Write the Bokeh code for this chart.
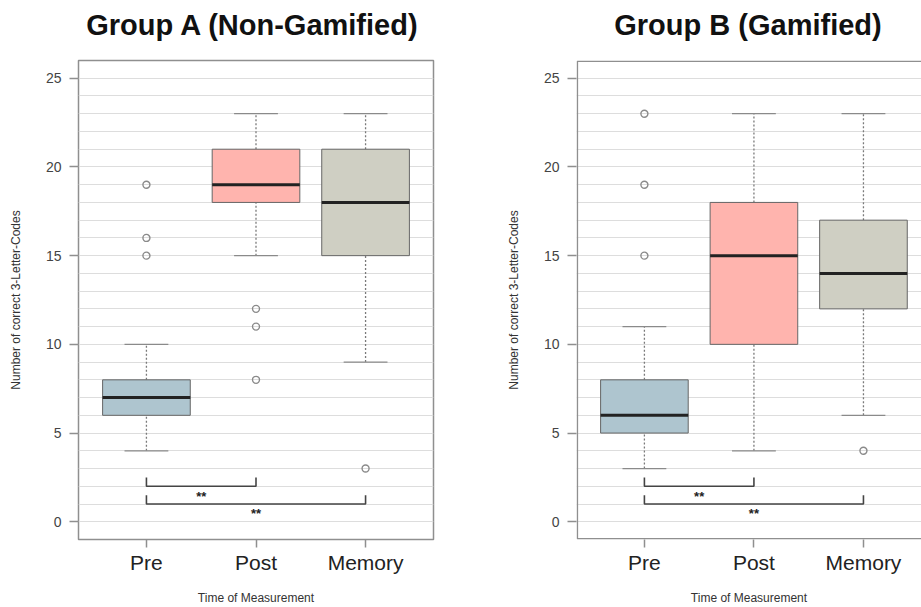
from bokeh.plotting import figure
from bokeh.layouts import row, column
from bokeh.models import FixedTicker, ColumnDataSource
from bokeh.core.properties import value
from bokeh.embed import file_html
from bokeh.resources import INLINE

# ---------------- data ----------------
categories = ["Pre", "Post", "Memory"]
positions = [1, 2, 3]

a_q1 = [6, 18, 15]
a_median = [7, 19, 18]
a_q3 = [8, 21, 21]
a_low = [4, 15, 9]
a_high = [10, 23, 23]
a_out_pos = [1, 1, 1, 2, 2, 2, 3]
a_out_val = [15, 16, 19, 12, 11, 8, 3]

b_q1 = [5, 10, 12]
b_median = [6, 15, 14]
b_q3 = [8, 18, 17]
b_low = [3, 4, 6]
b_high = [11, 23, 23]
b_out_pos = [1, 1, 1, 3]
b_out_val = [15, 19, 23, 4]

sig_from = [1, 1]
sig_to = [2, 3]
sig_level = [2, 1]
sig_label = ["**", "**"]

y_ticks = [0, 5, 10, 15, 20, 25]

titles = ["Group A (Non-Gamified)", "Group B  (Gamified)"]

colors = ["#aec5cf", "#ffb4ae", "#cfcfc3"]
FONT = "Liberation Sans"
BOX_W = 0.8
CAP_W = 0.4
Y0, Y1 = -1, 26
X0 = 0.38
TITLE_H = 58
MAIN_H = 607 - TITLE_H
TITLE_CY = 24


def make_title(text, width, border_left, border_right, shift_px):
    t = figure(width=width, height=TITLE_H, x_range=(0, width), y_range=(0, TITLE_H),
               output_backend="svg", toolbar_location=None, x_axis_type=None,
               y_axis_type=None, min_border=0, outline_line_color=None,
               background_fill_color="white", border_fill_color="white")
    t.grid.visible = False
    cx = border_left + (width - border_left - border_right) / 2 + shift_px
    t.text(x=[cx], y=[TITLE_H - TITLE_CY], text=[text], text_align="center",
           text_baseline="middle", text_font=value(FONT), text_font_size="29px",
           text_font_style="bold", text_color="#111111")
    return t


def make_panel(q1, med, q3, low, high, out_pos, out_val, x_end, width,
               border_left, border_right, full_outline):
    p = figure(width=width, height=MAIN_H, x_range=(X0, x_end), y_range=(Y0, Y1),
               output_backend="svg", toolbar_location=None,
               min_border_left=border_left, min_border_right=border_right,
               min_border_top=2, min_border_bottom=66, background_fill_color="white",
               border_fill_color="white")
    # grid
    p.xgrid.visible = False
    p.ygrid.ticker = FixedTicker(ticks=list(range(0, 26)))
    p.ygrid.grid_line_color = "#dddddd"
    p.ygrid.grid_line_width = 1
    # frame
    if full_outline:
        p.outline_line_color = "#8f8f8f"
        p.outline_line_width = 1.5
    else:
        p.outline_line_color = None
        dx = 0.008
        dy = 0.045
        p.line(x=[x_end + 1, X0 + dx, X0 + dx, x_end + 1],
               y=[Y1 - dy, Y1 - dy, Y0 + dy, Y0 + dy], line_color="#8f8f8f",
               line_width=1.5)
    # axes
    p.xaxis.ticker = FixedTicker(ticks=positions)
    p.xaxis.major_label_overrides = {pos: c for pos, c in zip(positions, categories)}
    p.xaxis.major_label_text_font = FONT
    p.xaxis.major_label_text_font_size = "21px"
    p.xaxis.major_label_text_color = "#222222"
    p.xaxis.major_label_standoff = 3
    p.xaxis.axis_label = "Time of Measurement"
    p.xaxis.axis_label_text_font = FONT
    p.xaxis.axis_label_text_font_size = "12px"
    p.xaxis.axis_label_text_font_style = "normal"
    p.xaxis.axis_label_text_color = "#333333"
    p.xaxis.axis_label_standoff = 14

    p.yaxis.ticker = FixedTicker(ticks=y_ticks)
    p.yaxis.major_label_text_font = FONT
    p.yaxis.major_label_text_font_size = "14px"
    p.yaxis.major_label_text_color = "#444444"
    p.yaxis.major_label_standoff = 8
    p.yaxis.axis_label = "Number of correct 3-Letter-Codes"
    p.yaxis.axis_label_text_font = FONT
    p.yaxis.axis_label_text_font_size = "12px"
    p.yaxis.axis_label_text_font_style = "normal"
    p.yaxis.axis_label_text_color = "#333333"
    p.yaxis.axis_label_standoff = 20
    for ax in (p.xaxis, p.yaxis):
        ax.axis_line_color = None
        ax.major_tick_in = 0
        ax.major_tick_out = 9
        ax.major_tick_line_color = "#8f8f8f"
        ax.major_tick_line_width = 1.5
        ax.minor_tick_line_color = None
    p.xaxis.major_tick_out = 8

    src = ColumnDataSource(dict(
        x=positions, q1=q1, med=med, q3=q3, low=low, high=high, color=colors,
        bl=[x - BOX_W / 2 for x in positions], br=[x + BOX_W / 2 for x in positions],
        cl=[x - CAP_W / 2 for x in positions], cr=[x + CAP_W / 2 for x in positions]))
    # whiskers (dashed)
    p.segment(x0="x", y0="q3", x1="x", y1="high", source=src, line_color="#7a7a7a",
              line_width=1.3, line_dash="2 2")
    p.segment(x0="x", y0="low", x1="x", y1="q1", source=src, line_color="#7a7a7a",
              line_width=1.3, line_dash="2 2")
    # caps
    p.segment(x0="cl", y0="high", x1="cr", y1="high", source=src, line_color="#8a8a8a",
              line_width=1.3)
    p.segment(x0="cl", y0="low", x1="cr", y1="low", source=src, line_color="#8a8a8a",
              line_width=1.3)
    # boxes
    p.vbar(x="x", width=BOX_W, bottom="q1", top="q3", source=src, fill_color="color",
           line_color="#666666", line_width=1)
    # medians
    p.segment(x0="bl", y0="med", x1="br", y1="med", source=src, line_color="#222222",
              line_width=3)
    # outliers
    p.scatter(x=out_pos, y=out_val, marker="circle", size=7, fill_color=None,
              line_color="#8a8a8a", line_width=1.4)
    # significance brackets
    xs = [[a, a, b, b] for a, b in zip(sig_from, sig_to)]
    ys = [[lv + 0.5, lv, lv, lv + 0.5] for lv in sig_level]
    p.multi_line(xs=xs, ys=ys, line_color="#444444", line_width=1.6)
    lx = [(a + b) / 2 for a, b in zip(sig_from, sig_to)]
    ly = [lv - 0.56 for lv in sig_level]
    p.text(x=lx, y=ly, text=sig_label, text_align="center", text_baseline="middle",
           text_font=value(FONT), text_font_size="13px", text_font_style="bold",
           text_color="#222222")
    return p


title_left = make_title(titles[0], 460, 78, 27, -3)
title_right = make_title(titles[1], 461, 116, 0, 3)
left = make_panel(a_q1, a_median, a_q3, a_low, a_high, a_out_pos, a_out_val,
                  3.62, 460, 78, 27, True)
right = make_panel(b_q1, b_median, b_q3, b_low, b_high, b_out_pos, b_out_val,
                   3.53, 461, 116, 0, False)

layout = column(row(title_left, title_right), row(left, right))
open("out.html", "w").write(file_html(layout, INLINE))
